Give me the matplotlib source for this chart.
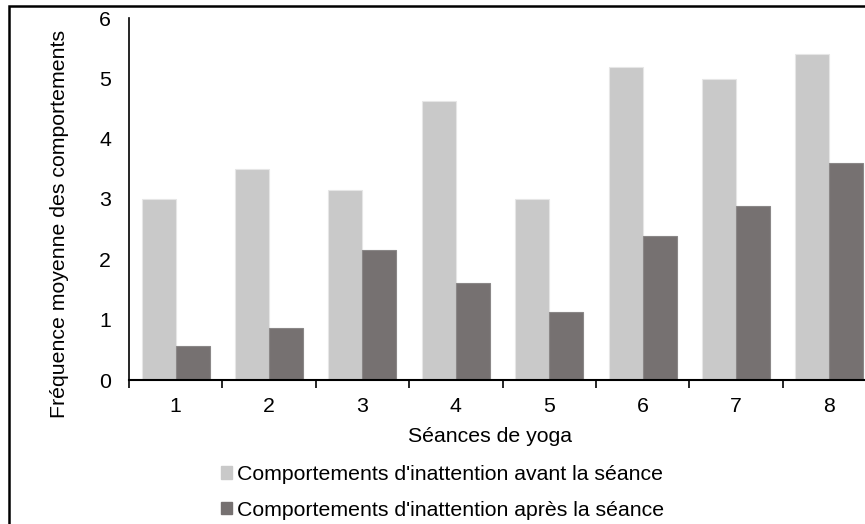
import numpy as np
import matplotlib
matplotlib.use('Agg')
import matplotlib.pyplot as plt
from matplotlib.patches import Rectangle, Patch

plt.rcParams['font.family'] = ['Liberation Sans', 'DejaVu Sans']

# data
seances = ['1', '2', '3', '4', '5', '6', '7', '8']
avant = [3.0, 3.5, 3.15, 4.62, 3.0, 5.19, 4.99, 5.40]
apres = [0.56, 0.86, 2.15, 1.6, 1.12, 2.39, 2.88, 3.6]
label_avant = "Comportements d'inattention avant la séance"
label_apres = "Comportements d'inattention après la séance"

c_avant = '#c9c9c9'
c_apres = '#767171'
fs = 15.3

fig = plt.figure(figsize=(8.65, 5.24), dpi=100)
ax = fig.add_axes([129/865, 1-380/524, 747/865, 362/524])

x = np.arange(len(seances))
w = 0.364
ax.bar(x - w/2, avant, w, color=c_avant, edgecolor='#e6e6e6', linewidth=0.8, label=label_avant)
ax.bar(x + w/2, apres, w, color=c_apres, edgecolor='#8a8787', linewidth=0.8, label=label_apres)

ax.set_xlim(-0.5, len(seances) - 0.5)
ax.set_ylim(0, 6)
ax.set_yticks(range(0, 7))
ax.tick_params(axis='y', length=0, labelsize=fs, pad=13)

ax.set_xticks(x)
ax.set_xticklabels(seances, fontsize=fs)
ax.tick_params(axis='x', which='major', length=0, pad=12)
ax.set_xticks(np.arange(-0.5, len(seances)), minor=True)
ax.tick_params(axis='x', which='minor', length=6, width=1.2, direction='out')

for s in ['top', 'right']:
    ax.spines[s].set_visible(False)
ax.spines['left'].set_linewidth(1.2)
ax.spines['bottom'].set_linewidth(1.5)

fig.text(60/865, 1-224/524, 'Fréquence moyenne des comportements', rotation=90,
         ha='center', va='center', fontsize=fs)
fig.text(490/865, 1-437/524, 'Séances de yoga', ha='center', va='center', fontsize=fs)

handles = [Patch(color=c_avant), Patch(color=c_apres)]
fig.legend(handles, [label_avant, label_apres], loc='upper left',
           bbox_to_anchor=(221/865, 1-465/524), frameon=False, fontsize=fs,
           handlelength=0.5, handleheight=0.5, handletextpad=0.25, labelspacing=0.78,
           borderpad=0, borderaxespad=0)

# figure border (left and top visible)
fig.patches.append(Rectangle((9/865, -0.1), 1.2, 1 - 6/524 + 0.1, transform=fig.transFigure,
                             fill=False, edgecolor='black', linewidth=1.8))

fig.savefig('out.png', dpi=100)
